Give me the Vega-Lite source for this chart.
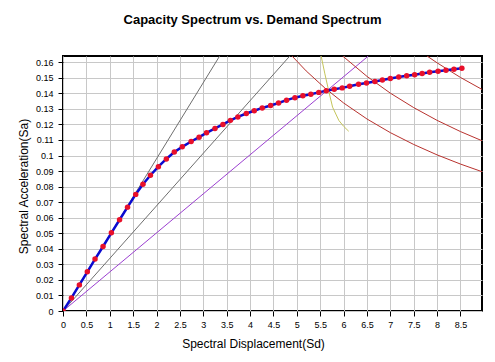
{
  "$schema": "https://vega.github.io/schema/vega-lite/v6.json",
  "width": 419,
  "height": 255,
  "autosize": {"type": "none"},
  "padding": {"left": 63, "top": 56, "right": 13, "bottom": 51},
  "background": "#ffffff",
  "title": {
    "text": "Capacity Spectrum vs. Demand Spectrum",
    "font": "Liberation Sans",
    "fontSize": 13,
    "fontWeight": "bold",
    "color": "#000000",
    "anchor": "middle",
    "baseline": "alphabetic",
    "dx": -20,
    "offset": 19
  },
  "config": {
    "view": {"stroke": "#000000", "strokeWidth": 2},
    "axis": {
      "labelFont": "Liberation Sans",
      "labelFontSize": 9,
      "labelColor": "#000000",
      "titleFont": "Liberation Sans",
      "titleFontSize": 12,
      "titleFontWeight": "normal",
      "titleColor": "#000000",
      "gridColor": "#c8c8c8",
      "gridOpacity": 1,
      "gridWidth": 1,
      "tickColor": "#000000",
      "tickSize": 5,
      "domain": false
    }
  },
  "datasets": {
    "cap": [
      {"x": 0, "y": 0}, {"x": 0.18, "y": 0.0084}, {"x": 0.35, "y": 0.0168}, {"x": 0.52, "y": 0.0252},
      {"x": 0.685, "y": 0.0334}, {"x": 0.856, "y": 0.0415}, {"x": 1.035, "y": 0.0503}, {"x": 1.21, "y": 0.0587},
      {"x": 1.38, "y": 0.0668}, {"x": 1.555, "y": 0.0750}, {"x": 1.71, "y": 0.0815}, {"x": 1.87, "y": 0.0873},
      {"x": 2.04, "y": 0.0928}, {"x": 2.21, "y": 0.0978}, {"x": 2.38, "y": 0.1022}, {"x": 2.55, "y": 0.1056},
      {"x": 2.74, "y": 0.1090}, {"x": 2.91, "y": 0.1118}, {"x": 3.07, "y": 0.1146}, {"x": 3.25, "y": 0.1174},
      {"x": 3.42, "y": 0.1200}, {"x": 3.58, "y": 0.1226}, {"x": 3.74, "y": 0.1248}, {"x": 3.92, "y": 0.1270},
      {"x": 4.09, "y": 0.1288}, {"x": 4.26, "y": 0.1306}, {"x": 4.44, "y": 0.1322}, {"x": 4.61, "y": 0.1338},
      {"x": 4.78, "y": 0.1356}, {"x": 4.96, "y": 0.1372}, {"x": 5.13, "y": 0.1384}, {"x": 5.30, "y": 0.1394},
      {"x": 5.47, "y": 0.1406}, {"x": 5.63, "y": 0.1417}, {"x": 5.80, "y": 0.1426}, {"x": 5.97, "y": 0.1435},
      {"x": 6.13, "y": 0.1446}, {"x": 6.32, "y": 0.1458}, {"x": 6.49, "y": 0.1467}, {"x": 6.67, "y": 0.1476},
      {"x": 6.83, "y": 0.1486}, {"x": 7.0, "y": 0.1495}, {"x": 7.18, "y": 0.1505}, {"x": 7.35, "y": 0.1513},
      {"x": 7.52, "y": 0.1520}, {"x": 7.68, "y": 0.1528}, {"x": 7.84, "y": 0.1535}, {"x": 8.02, "y": 0.1542},
      {"x": 8.19, "y": 0.1549}, {"x": 8.36, "y": 0.1555}, {"x": 8.53, "y": 0.1561}
    ],
    "lines": [
      {"s": "gray1", "o": 0, "x": 0, "y": 0}, {"s": "gray1", "o": 1, "x": 3.35, "y": 0.164},
      {"s": "gray2", "o": 0, "x": 0, "y": 0}, {"s": "gray2", "o": 1, "x": 4.85, "y": 0.164},
      {"s": "purple", "o": 0, "x": 0, "y": 0}, {"s": "purple", "o": 1, "x": 6.53, "y": 0.164},
      {"s": "red1", "o": 0, "x": 4.9, "y": 0.1639}, {"s": "red1", "o": 1, "x": 5.2, "y": 0.1544},
      {"s": "red1", "o": 2, "x": 5.6, "y": 0.1434}, {"s": "red1", "o": 3, "x": 6.0, "y": 0.1338},
      {"s": "red1", "o": 4, "x": 6.5, "y": 0.1235}, {"s": "red1", "o": 5, "x": 7.0, "y": 0.1147},
      {"s": "red1", "o": 6, "x": 7.5, "y": 0.1071}, {"s": "red1", "o": 7, "x": 8.0, "y": 0.1004},
      {"s": "red1", "o": 8, "x": 8.5, "y": 0.0945}, {"s": "red1", "o": 9, "x": 8.96, "y": 0.0896},
      {"s": "red2", "o": 0, "x": 5.98, "y": 0.164}, {"s": "red2", "o": 1, "x": 6.5, "y": 0.1509},
      {"s": "red2", "o": 2, "x": 7.0, "y": 0.1401}, {"s": "red2", "o": 3, "x": 7.5, "y": 0.1308},
      {"s": "red2", "o": 4, "x": 8.0, "y": 0.1226}, {"s": "red2", "o": 5, "x": 8.5, "y": 0.1154},
      {"s": "red2", "o": 6, "x": 8.96, "y": 0.1095},
      {"s": "red3", "o": 0, "x": 7.78, "y": 0.1641}, {"s": "red3", "o": 1, "x": 8.0, "y": 0.1596},
      {"s": "red3", "o": 2, "x": 8.5, "y": 0.1502}, {"s": "red3", "o": 3, "x": 8.96, "y": 0.1425},
      {"s": "yellow", "o": 0, "x": 5.52, "y": 0.164}, {"s": "yellow", "o": 1, "x": 5.6, "y": 0.1525},
      {"s": "yellow", "o": 2, "x": 5.68, "y": 0.1418}, {"s": "yellow", "o": 3, "x": 5.765, "y": 0.1311},
      {"s": "yellow", "o": 4, "x": 5.9, "y": 0.1225}, {"s": "yellow", "o": 5, "x": 6.0, "y": 0.1188},
      {"s": "yellow", "o": 6, "x": 6.11, "y": 0.1156}
    ]
  },
  "encoding": {
    "x": {
      "field": "x", "type": "quantitative",
      "scale": {"domain": [0, 8.96], "nice": false, "zero": false},
      "axis": {
        "title": "Spectral Displacement(Sd)",
        "values": [0, 0.5, 1, 1.5, 2, 2.5, 3, 3.5, 4, 4.5, 5, 5.5, 6, 6.5, 7, 7.5, 8, 8.5],
        "format": "~g",
        "labelPadding": 4,
        "labelFlush": false,
        "titleX": 190,
        "titleY": 36,
        "titleBaseline": "alphabetic",
        "titleAnchor": null,
        "titleAlign": "center"
      }
    },
    "y": {
      "field": "y", "type": "quantitative",
      "scale": {"domain": [0, 0.164], "nice": false, "zero": false},
      "axis": {
        "title": "Spectral Acceleration(Sa)",
        "values": [0, 0.01, 0.02, 0.03, 0.04, 0.05, 0.06, 0.07, 0.08, 0.09, 0.1, 0.11, 0.12, 0.13, 0.14, 0.15, 0.16],
        "format": "~g",
        "labelPadding": 5,
        "labelFlush": false,
        "titleX": -36,
        "titleY": 130,
        "titleAngle": -90,
        "titleBaseline": "alphabetic",
        "titleAlign": "center"
      }
    }
  },
  "layer": [
    {
      "data": {"name": "lines"},
      "mark": {"type": "line", "strokeWidth": 1, "clip": true},
      "encoding": {
        "color": {
          "field": "s", "type": "nominal", "legend": null,
          "scale": {
            "domain": ["gray1", "gray2", "purple", "red1", "red2", "red3", "yellow"],
            "range": ["#6e6e6e", "#6e6e6e", "#9b3fd0", "#b8322e", "#b8322e", "#b8322e", "#c4c45a"]
          }
        },
        "order": {"field": "o", "type": "quantitative"}
      }
    },
    {
      "data": {"name": "cap"},
      "mark": {"type": "line", "color": "#0a0ad0", "strokeWidth": 2.5, "clip": true},
      "encoding": {}
    },
    {
      "data": {"name": "cap"},
      "mark": {"type": "point", "shape": "circle", "filled": true, "color": "#e8102a", "opacity": 1, "size": 30, "clip": true},
      "encoding": {}
    }
  ]
}
